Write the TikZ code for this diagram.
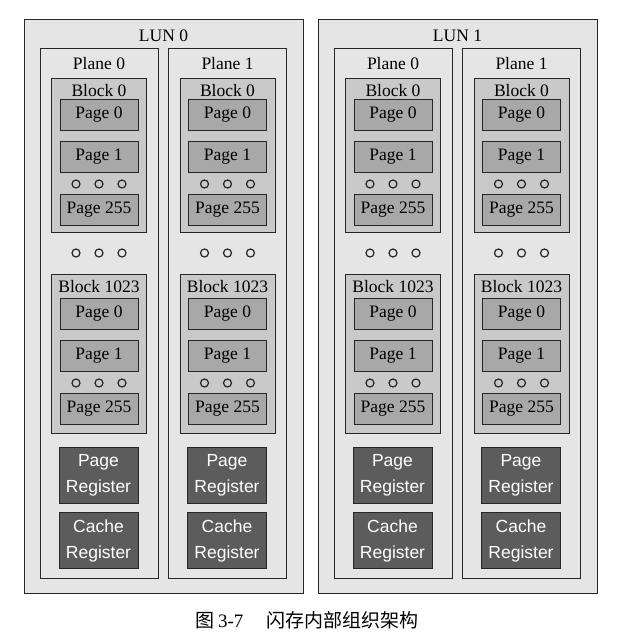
\documentclass[tikz,border=0pt]{standalone}
\usepackage{fontspec}
\setmainfont{Liberation Serif}
\newfontfamily\regfont{Liberation Sans}
\newfontfamily\cjk{Noto Sans CJK SC}
\definecolor{lunfill}{gray}{0.9}
\definecolor{blockfill}{gray}{0.79}
\definecolor{pagefill}{gray}{0.66}
\definecolor{regfill}{gray}{0.36}
\definecolor{edge}{gray}{0.15}
\tikzset{
  frame/.style={draw=edge, line width=0.9pt, inner sep=0pt},
  lunbox/.style={frame, fill=lunfill, minimum width=279pt, minimum height=574pt},
  planebox/.style={frame, fill=lunfill, minimum width=118pt, minimum height=530pt},
  blockbox/.style={frame, fill=blockfill, minimum width=95pt},
  pagebox/.style={frame, fill=pagefill, minimum width=78pt, minimum height=31pt, font=\fontsize{17.5}{20}\selectfont},
  regbox/.style={frame, fill=regfill, text=white, minimum width=79pt, minimum height=56pt, align=center, font=\regfont\fontsize{17.5}{26}\selectfont},
  lbl/.style={inner sep=0pt, font=\fontsize{17.5}{20}\selectfont},
  dotc/.style={draw=edge, fill=blockfill, line width=1.2pt}
}
\begin{document}
\begin{tikzpicture}[x=1pt,y=-1pt]
\useasboundingbox (0,0) rectangle (619,643);
\foreach \l/\lx in {0/0,1/294} {
  \node[lunbox] (lun\l) at (163.5+\lx,306) {};
  \node[lbl] (lun\l-t) at (163.5+\lx,36) {LUN \l};
  \foreach \p/\px in {0/0,1/128.5} {
    % one plane
    \node[planebox] (lun\l-pl\p) at (99+\lx+\px,313) {};
    \node[lbl] (lun\l-pl\p-t) at (99+\lx+\px,64) {Plane \p};
    \foreach \b/\s/\t/\h in {0/0/78/154,1023/199/274/159} {
      \node[blockbox, minimum height=\h pt] (lun\l-pl\p-b\b) at (99+\lx+\px,\t+\h/2) {};
      \node[lbl] (lun\l-pl\p-b\b-t) at (99+\lx+\px,\t+12.5) {Block \b};
      \foreach \g/\gy in {0/114.5,1/156.5,255/209.5}
        \node[pagebox] (lun\l-pl\p-b\b-pg\g) at (99+\lx+\px,\gy+\s) {Page \g};
      \foreach \d in {-23,0,23}
        \draw[dotc] (99+\lx+\px+\d,184+\s) circle (4);
    }
    \foreach \d in {-23,0,23}
      \draw[dotc, fill=lunfill] (99+\lx+\px+\d,253) circle (4);
    \node[regbox] (lun\l-pl\p-preg) at (98.5+\lx+\px,475) {Page\\Register};
    \node[regbox] (lun\l-pl\p-creg) at (98.5+\lx+\px,540.5) {Cache\\Register};
  }
}
\node[inner sep=0pt, font=\fontsize{19}{22}\selectfont] (cap) at (307,620) {{\cjk 图}\,3-7\hspace{1.2em}{\cjk 闪存内部组织架构}};
\end{tikzpicture}
\end{document}
